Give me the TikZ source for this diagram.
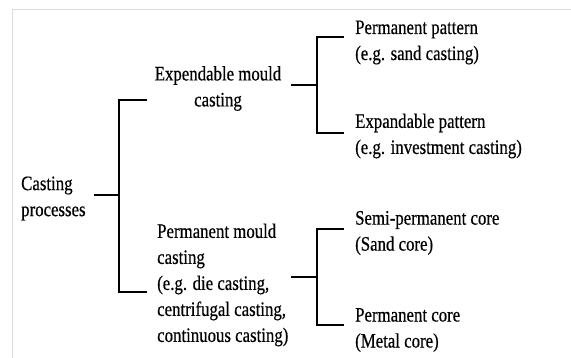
\documentclass[tikz,border=0pt]{standalone}
\usepackage{fontspec}
\setmainfont[FakeStretch=0.82,FakeBold=0.5]{Liberation Serif}
\begin{document}
\begin{tikzpicture}[x=1pt,y=-1pt,
  lbl/.style={inner sep=0pt,align=left,anchor=west,font=\fontsize{20.5}{26}\selectfont},
  br/.style={line width=1.6pt,black,line cap=rect},
  frame/.style={line width=1pt,black!14}]
\useasboundingbox (0,0) rectangle (571,358);
\draw[frame] (12,358) -- (12,10) -- (571,10);
% nodes
\node[lbl] (cp) at (21,198.5) {Casting\\processes};
\node[lbl,align=center,anchor=center] (em) at (218,88.5) {Expendable mould\\casting};
\node[lbl] (pm) at (157,285) {Permanent mould\\casting\\(e.g. die casting,\\centrifugal casting,\\continuous casting)};
\node[lbl] (pp) at (355,42.5) {Permanent pattern\\(e.g. sand casting)};
\node[lbl] (ep) at (355,136) {Expandable pattern\\(e.g. investment casting)};
\node[lbl] (sc) at (355,233) {Semi-permanent core\\(Sand core)};
\node[lbl] (mc) at (355,330) {Permanent core\\(Metal core)};
% bracket junctions
\coordinate (a0) at (95,195);  \coordinate (a1) at (119,195);
\coordinate (a2) at (119,100); \coordinate (a3) at (146,100);
\coordinate (a4) at (119,292); \coordinate (a5) at (146,292);
\coordinate (b0) at (292,85);  \coordinate (b1) at (317,85);
\coordinate (b2) at (317,37);  \coordinate (b3) at (343,37);
\coordinate (b4) at (317,133); \coordinate (b5) at (343,133);
\coordinate (c0) at (292,277); \coordinate (c1) at (317,277);
\coordinate (c2) at (317,229); \coordinate (c3) at (343,229);
\coordinate (c4) at (317,325); \coordinate (c5) at (343,325);
% connectors
\draw[br] (a0) -- (a1);
\draw[br] (a3) -- (a2) -- (a4) -- (a5);
\draw[br] (b0) -- (b1);
\draw[br] (b3) -- (b2) -- (b4) -- (b5);
\draw[br] (c0) -- (c1);
\draw[br] (c3) -- (c2) -- (c4) -- (c5);
\end{tikzpicture}
\end{document}
